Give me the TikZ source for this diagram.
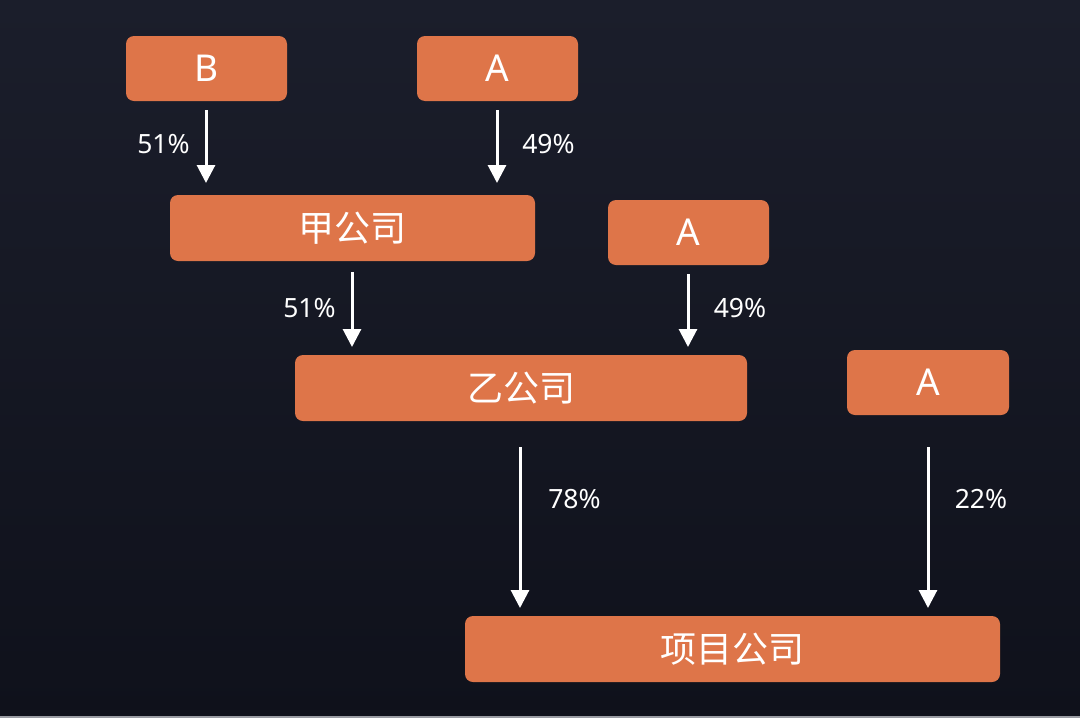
\documentclass[tikz,border=0pt]{standalone}
\usepackage{fontspec}
\setmainfont{Noto Sans}
\newfontfamily\cjk{Noto Sans CJK SC}
\usetikzlibrary{arrows.meta}
\definecolor{boxorange}{HTML}{DE7549}
\definecolor{bgtop}{HTML}{1B1E2B}
\definecolor{bgbot}{HTML}{0F111B}
\definecolor{edgegray}{HTML}{9A9CA3}
\tikzset{
  obox/.style={fill=boxorange, rounded corners=8pt, text=white, inner sep=0pt,
    font=\fontsize{37}{42}\selectfont, anchor=center},
  cbox/.style={obox, font=\cjk\fontsize{36}{42}\selectfont},
  pct/.style={text=white, font=\fontsize{26.5}{30}\selectfont, inner sep=0pt},
  flow/.style={draw=white, line width=3pt, -{Triangle[width=18pt,length=18pt]}},
}
\begin{document}
\begin{tikzpicture}[x=1pt,y=-1pt]
\shade[top color=bgtop, bottom color=bgbot] (0,0) rectangle (1080,718);
\useasboundingbox (0,0) rectangle (1080,718);
\fill[edgegray] (0,715.5) rectangle (1080,718);
% boxes
\node[obox, minimum width=161pt, minimum height=65pt] (B)  at (206.5,68.5) {B};
\node[obox, minimum width=161pt, minimum height=65pt] (A1) at (497.5,68.5) {A};
\node[cbox, minimum width=365pt, minimum height=66pt] (J)  at (352.5,228) {甲公司};
\node[obox, minimum width=161pt, minimum height=65pt] (A2) at (688.5,232.5) {A};
\node[cbox, minimum width=452pt, minimum height=66pt] (Y)  at (521,388) {乙公司};
\node[obox, minimum width=162pt, minimum height=65pt] (A3) at (928,382.5) {A};
\node[cbox, minimum width=535pt, minimum height=66pt] (P)  at (732.5,649) {项目公司};
% arrow endpoints
\coordinate (b1) at (206,110);  \coordinate (b2) at (206,183);
\coordinate (a1) at (497,110);  \coordinate (a2) at (497,183);
\coordinate (j1) at (352,272);  \coordinate (j2) at (352,347);
\coordinate (c1) at (688,274);  \coordinate (c2) at (688,347);
\coordinate (y1) at (520,447);  \coordinate (y2) at (520,608);
\coordinate (d1) at (928,447);  \coordinate (d2) at (928,608);
\draw[flow] (b1) -- (b2);
\draw[flow] (a1) -- (a2);
\draw[flow] (j1) -- (j2);
\draw[flow] (c1) -- (c2);
\draw[flow] (y1) -- (y2);
\draw[flow] (d1) -- (d2);
% labels
\node[pct] (l1) at (163.5,144) {51\%};
\node[pct] (l2) at (548.5,144) {49\%};
\node[pct] (l3) at (309.5,308) {51\%};
\node[pct] (l4) at (740,308) {49\%};
\node[pct] (l5) at (574.5,499) {78\%};
\node[pct] (l6) at (981,499) {22\%};
\end{tikzpicture}
\end{document}
